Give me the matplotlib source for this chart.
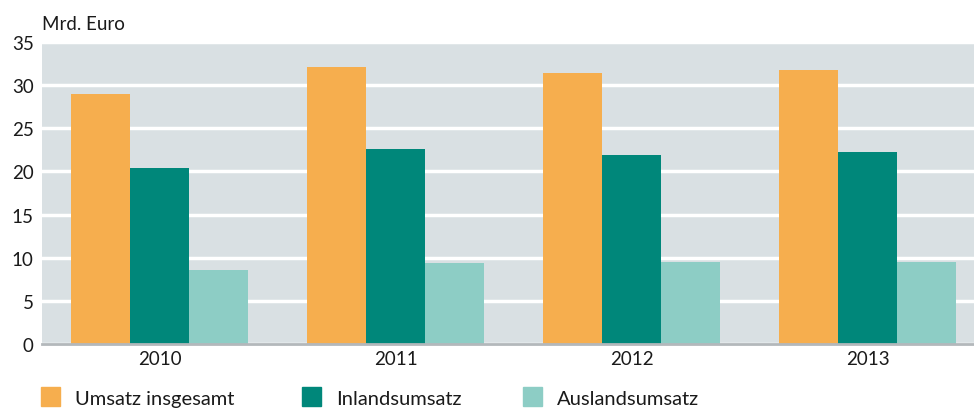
import matplotlib.pyplot as plt
from matplotlib.patches import Rectangle
import numpy as np

years = ["2010", "2011", "2012", "2013"]
gesamt = [29.0, 32.1, 31.4, 31.8]
inland = [20.4, 22.6, 21.9, 22.3]
ausland = [8.6, 9.4, 9.5, 9.5]

series = [
    ("Umsatz insgesamt", gesamt, "#f6ae4e"),
    ("Inlandsumsatz", inland, "#00877a"),
    ("Auslandsumsatz", ausland, "#8dcdc5"),
]

plt.rcParams["font.family"] = ["Lato", "DejaVu Sans"]

W, H = 974, 410


def main():
    fig = plt.figure(figsize=(W / 100, H / 100), dpi=100)
    ax = fig.add_axes([42 / W, 65 / H, 932 / W, 302 / H])
    ax.set_facecolor("#d9e0e3")

    x = np.arange(len(years))
    width = 0.25
    for i, (name, vals, color) in enumerate(series):
        ax.bar(x + (i - 1) * width, vals, width, color=color, label=name, zorder=3)

    ax.set_ylim(0, 35)
    ax.set_xlim(-0.5, 3.45)
    ax.set_yticks(range(0, 36, 5))
    ax.set_xticks(x)
    ax.set_xticklabels(years)
    ax.yaxis.grid(True, color="white", linewidth=2.5, zorder=1)
    ax.set_axisbelow(True)
    for s in ["top", "right", "left"]:
        ax.spines[s].set_visible(False)
    ax.spines["bottom"].set_color("#b3b8bb")
    ax.spines["bottom"].set_linewidth(2)
    ax.spines["bottom"].set_zorder(4)
    ax.tick_params(length=0, labelsize=13.5, colors="#1a1a1a", pad=4)
    ax.tick_params(axis="y", pad=6)

    fig.text(42 / W, 1 - 25 / H, "Mrd. Euro", fontsize=13.5, va="center", ha="left", color="#1a1a1a")

    # legend drawn by hand to match placement
    legend_x = [41, 302, 523]
    for lx, (name, _, color) in zip(legend_x, series):
        fig.patches.append(Rectangle((lx / W, 3 / H), 19 / W, 19 / H, color=color,
                                     transform=fig.transFigure, figure=fig))
        fig.text((lx + 34) / W, 10 / H, name, fontsize=14.5, va="center", ha="left", color="#1a1a1a")

    plt.savefig("out.png", dpi=100)
    plt.close()


if __name__ == "__main__":
    main()
